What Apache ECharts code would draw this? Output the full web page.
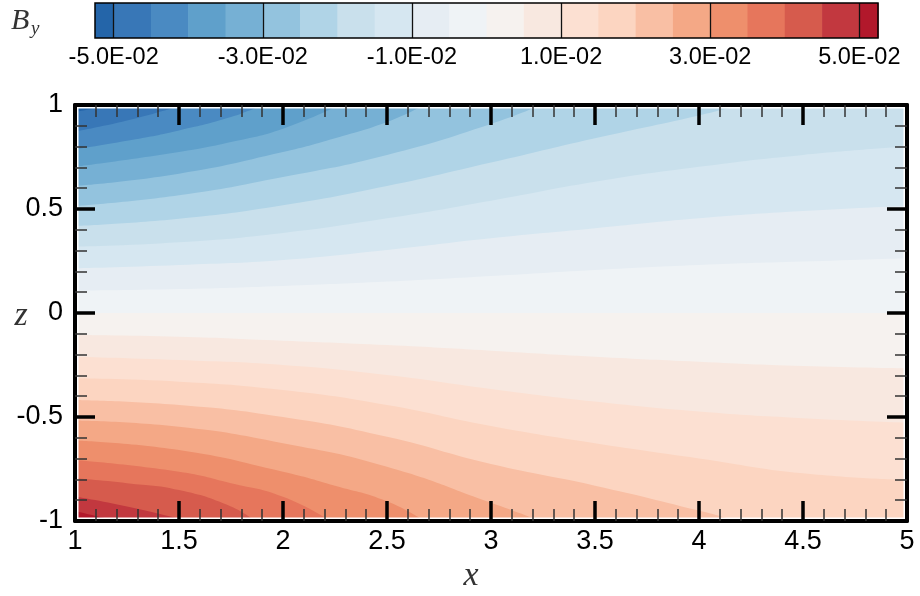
<!DOCTYPE html>
<html><head><meta charset="utf-8">
<script src="https://cdn.jsdelivr.net/npm/echarts@6/dist/echarts.min.js"></script>
<style>html,body{margin:0;padding:0;background:#fff}#c{width:920px;height:596px}</style>
</head><body><div id="c"></div>
<script>
// ---------- data ----------
const xTicks = [1, 1.5, 2, 2.5, 3, 3.5, 4, 4.5, 5];
const zTicks = [-1, -0.5, 0, 0.5, 1];
const colorbarTicks = [-0.05, -0.03, -0.01, 0.01, 0.03, 0.05];
const colorbarRange = [-0.0525, 0.0525];
const levels = [-0.05, -0.045, -0.04, -0.035, -0.03, -0.025, -0.02, -0.015, -0.01, -0.005, 0,
                0.005, 0.01, 0.015, 0.02, 0.025, 0.03, 0.035, 0.04, 0.045, 0.05];
const bandColors = ['#2465a9','#3877b7','#4a8ac2','#5fa0cb','#76b0d4','#93c3de','#b0d4e7','#c9e0ec',
                    '#d6e7f1','#e6edf3','#eff3f6','#f6f2ef','#f8e8e0','#fce0d2','#fcd5c1','#f9bfa4',
                    '#f4a886','#ee8f6c','#e6765c','#d65b4d','#c2383f','#b2182b'];
// contour lines [x, z]
const c_m050 = [[1,0.966],[1.1,0.984],[1.22,1.0]];
const c_m045 = [[1,0.872],[1.25,0.925],[1.52,1.0]];
const c_m040 = [[1,0.787],[1.25,0.828],[1.5,0.878],[1.75,0.942],[1.9,1.0]];
const c_m035 = [[1,0.703],[1.5,0.774],[1.75,0.822],[2,0.886],[2.27,1.0]];
const c_m030 = [[1,0.611],[1.5,0.67],[2,0.774],[2.25,0.84],[2.5,0.918],[2.68,1.0]];
const c_m025 = [[1,0.514],[1.5,0.566],[2,0.654],[2.5,0.76],[3,0.909],[3.24,1.0]];
const c_m020 = [[1,0.418],[1.5,0.453],[2,0.518],[2.5,0.61],[3,0.723],[3.5,0.84],[4,0.95],[4.2,1.0]];
const c_m015 = [[1,0.319],[1.5,0.34],[2,0.385],[2.5,0.455],[3,0.54],[3.5,0.631],[4,0.703],[4.5,0.76],[5,0.8]];
const c_m010 = [[1,0.215],[1.5,0.231],[2,0.255],[2.5,0.303],[3,0.359],[3.5,0.407],[4,0.455],[4.5,0.49],[5,0.514]];
const c_m005 = [[1,0.107],[1.5,0.115],[2,0.13],[2.5,0.151],[3,0.178],[3.5,0.207],[4,0.231],[4.5,0.247],[5,0.263]];
const c_000  = [[1,0],[3,0],[5,0]];
const c_p005 = [[1,-0.106],[1.5,-0.114],[2,-0.133],[2.5,-0.154],[3,-0.181],[3.5,-0.21],[4,-0.234],[4.5,-0.255],[5,-0.266]];
const c_p010 = [[1,-0.21],[1.5,-0.226],[2,-0.25],[2.5,-0.298],[3,-0.365],[3.5,-0.426],[4,-0.474],[4.5,-0.506],[5,-0.527]];
const c_p015 = [[1,-0.314],[1.5,-0.33],[2,-0.37],[2.5,-0.442],[3,-0.543],[3.5,-0.626],[4,-0.699],[4.5,-0.771],[5,-0.803]];
const c_p020 = [[1,-0.418],[1.5,-0.442],[2,-0.5],[2.5,-0.595],[3,-0.726],[3.5,-0.83],[4,-0.95],[4.18,-1.0]];
const c_p025 = [[1,-0.517],[1.5,-0.547],[2,-0.626],[2.5,-0.739],[3,-0.912],[3.24,-1.0]];
const c_p030 = [[1,-0.613],[1.5,-0.659],[2,-0.763],[2.25,-0.83],[2.5,-0.905],[2.68,-1.0]];
const c_p035 = [[1,-0.707],[1.5,-0.763],[1.75,-0.818],[2,-0.883],[2.23,-1.0]];
const c_p040 = [[1,-0.795],[1.25,-0.818],[1.5,-0.851],[1.75,-0.93],[1.865,-1.0]];
const c_p045 = [[1,-0.882],[1.25,-0.93],[1.545,-1.0]];
const c_p050 = [[1,-0.952],[1.2,-1.0]];

const contours = [c_m050,c_m045,c_m040,c_m035,c_m030,c_m025,c_m020,c_m015,c_m010,c_m005,c_000,
                  c_p005,c_p010,c_p015,c_p020,c_p025,c_p030,c_p035,c_p040,c_p045,c_p050];

// ---------- build ----------
const chart = echarts.init(document.getElementById('c'), null, {renderer: 'canvas'});
const series = [];
function contourSeries(data, color, origin) {
  return {
    type: 'line', xAxisIndex: 0, yAxisIndex: 0, data: data,
    showSymbol: false, symbol: 'none', smooth: 0.5,
    lineStyle: {width: 0, opacity: 0},
    areaStyle: {color: color, opacity: 1, origin: origin},
    silent: true, animation: false, z: 2
  };
}
// blue side: region above line (value < level) — draw from 0 down to -0.05
for (let i = 10; i >= 0; i--) series.push(contourSeries(contours[i], bandColors[i], 'end'));
// red side: region below line (value > level) — draw from 0.005 up to 0.05
for (let i = 11; i <= 20; i++) series.push(contourSeries(contours[i], bandColors[i + 1], 'start'));

// colorbar bands
const cbData = bandColors.map((c, i) => [
  i === 0 ? colorbarRange[0] : levels[i - 1],
  i === bandColors.length - 1 ? colorbarRange[1] : levels[i],
  i
]);
series.push({
  type: 'custom', xAxisIndex: 2, yAxisIndex: 2, data: cbData, silent: true, animation: false,
  encode: {x: [0, 1]},
  renderItem: function (params, api) {
    const p0 = api.coord([api.value(0), 0]);
    const p1 = api.coord([api.value(1), 1]);
    return {type: 'rect', shape: {x: p0[0], y: p1[1], width: p1[0] - p0[0] + 0.6, height: p0[1] - p1[1]},
            style: {fill: bandColors[api.value(2)]}};
  }
});

function sci(v) {
  const s = v.toExponential(1);
  const parts = s.split('e');
  const e = parseInt(parts[1], 10);
  return parts[0] + 'E' + (e < 0 ? '-' : '+') + String(Math.abs(e)).padStart(2, '0');
}

const labelFont = {fontFamily: 'Liberation Sans', color: '#000'};
const majorTick = {show: true, inside: true, length: 20, lineStyle: {color: '#000', width: 3.5}};
const minorTick = {show: true, splitNumber: 5, length: 12, lineStyle: {color: '#333', width: 1.5}};
const axisLine = {show: true, onZero: false, lineStyle: {color: '#000', width: 4}};

const option = {
  animation: false,
  backgroundColor: '#fff',
  grid: [
    {left: 75, top: 105, right: 13, bottom: 75, show: true, backgroundColor: bandColors[11], borderWidth: 0},
    {left: 95, top: 3, width: 783, height: 35, show: false}
  ],
  xAxis: [
    {gridIndex: 0, type: 'value', min: xTicks[0], max: xTicks[xTicks.length - 1], interval: 0.5, position: 'bottom', z: 10,
     axisLine: axisLine, axisTick: majorTick, minorTick: minorTick, splitLine: {show: false},
     axisLabel: Object.assign({fontSize: 27, margin: 7, showMinLabel: true, showMaxLabel: true}, labelFont)},
    {gridIndex: 0, type: 'value', min: xTicks[0], max: xTicks[xTicks.length - 1], interval: 0.5, position: 'top', z: 10,
     axisLine: axisLine, axisTick: majorTick, minorTick: minorTick, splitLine: {show: false}, axisLabel: {show: false}},
    {gridIndex: 1, type: 'value', min: colorbarRange[0], max: colorbarRange[1], position: 'bottom', z: 10,
     axisLine: {show: false}, splitLine: {show: false},
     axisTick: {show: true, inside: true, length: 35, customValues: colorbarTicks, lineStyle: {color: '#111', width: 1.3}},
     axisLabel: Object.assign({fontSize: 23.5, margin: 8, customValues: colorbarTicks, formatter: sci}, labelFont)}
  ],
  yAxis: [
    {gridIndex: 0, type: 'value', min: zTicks[0], max: zTicks[zTicks.length - 1], interval: 0.5, position: 'left', z: 10,
     axisLine: axisLine, axisTick: majorTick, minorTick: minorTick, splitLine: {show: false},
     axisLabel: Object.assign({fontSize: 27, margin: 12, showMinLabel: true, showMaxLabel: true}, labelFont)},
    {gridIndex: 0, type: 'value', min: zTicks[0], max: zTicks[zTicks.length - 1], interval: 0.5, position: 'right', z: 10,
     axisLine: axisLine, axisTick: majorTick, minorTick: minorTick, splitLine: {show: false}, axisLabel: {show: false}},
    {gridIndex: 1, type: 'value', min: 0, max: 1, show: false}
  ],
  graphic: [
    {type: 'rect', z: 5, silent: true, shape: {x: 75, y: 105, width: 832, height: 416},
     style: {fill: 'none', stroke: '#fff', lineWidth: 7}},
    {type: 'rect', z: 100, silent: true, shape: {x: 95, y: 3, width: 783, height: 35},
     style: {fill: 'none', stroke: '#000', lineWidth: 1.5}},
    {type: 'text', z: 100, x: 471, y: 576, style: {text: 'x', fill: '#333', font: 'italic 34px "Liberation Serif"', textAlign: 'center', textVerticalAlign: 'middle'}},
    {type: 'text', z: 100, x: 21, y: 316, style: {text: 'z', fill: '#333', font: 'italic 34px "Liberation Serif"', textAlign: 'center', textVerticalAlign: 'middle'}},
    {type: 'text', z: 100, x: 11, y: 21, style: {text: 'B', fill: '#333', font: 'italic 30px "Liberation Serif"', textAlign: 'left', textVerticalAlign: 'middle'}},
    {type: 'text', z: 100, x: 31, y: 29, style: {text: 'y', fill: '#333', font: 'italic 19px "Liberation Serif"', textAlign: 'left', textVerticalAlign: 'middle'}}
  ],
  series: series
};
chart.setOption(option);
</script>
</body></html>
